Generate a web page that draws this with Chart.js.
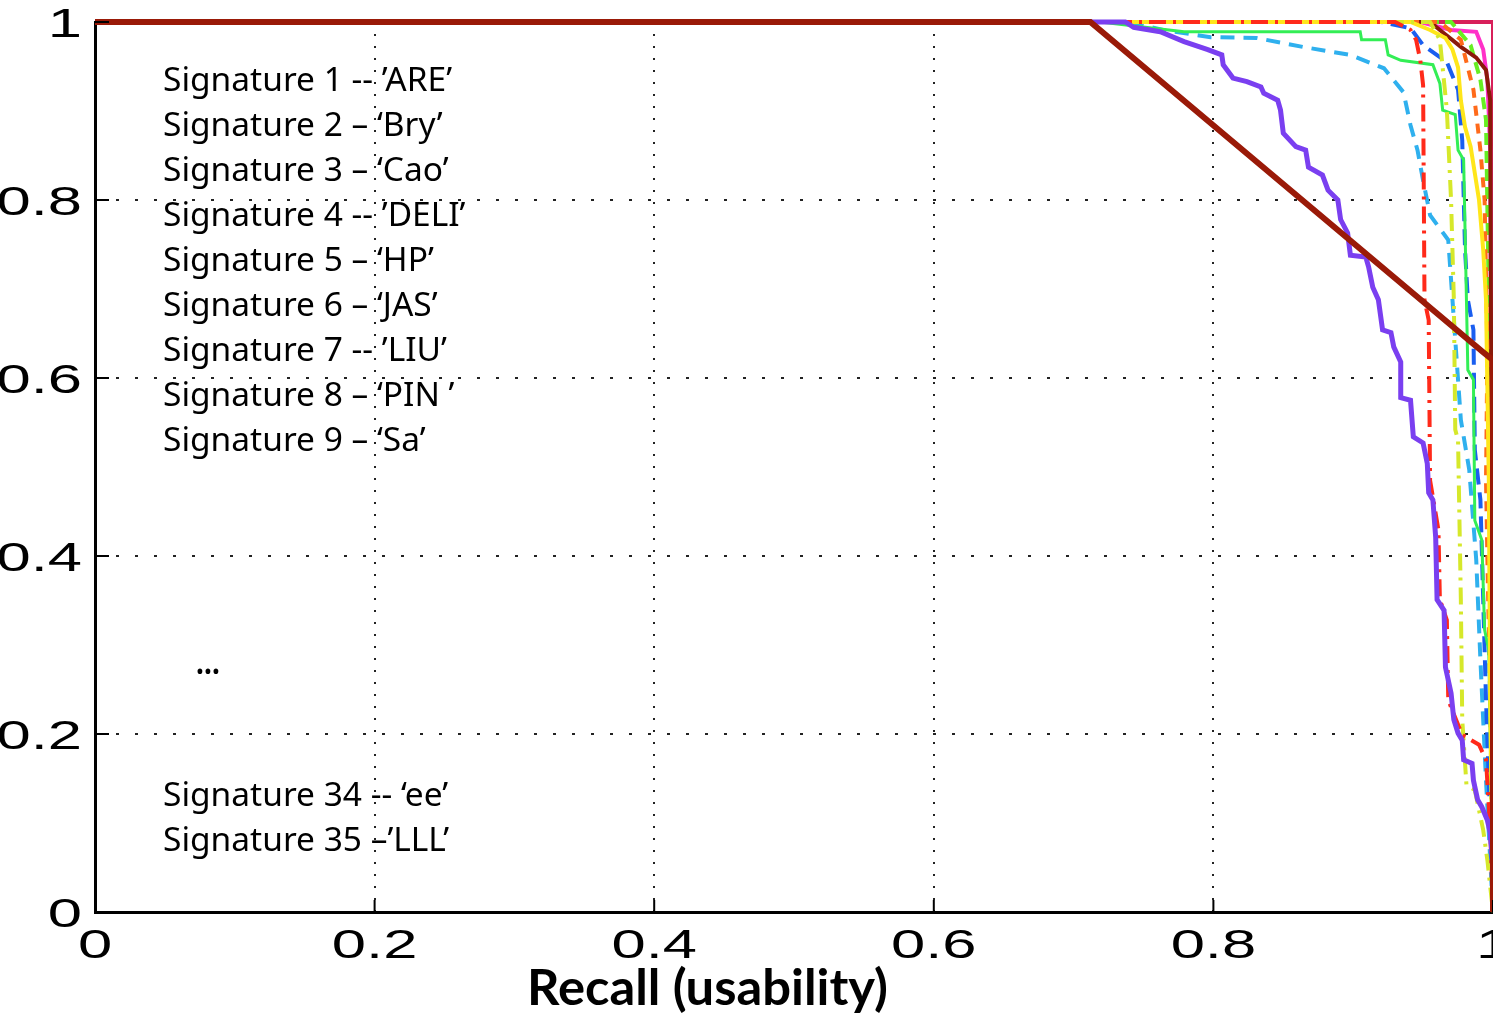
<!DOCTYPE html>
<html>
<head>
<meta charset="utf-8">
<script src="https://cdn.jsdelivr.net/npm/chart.js@4/dist/chart.umd.min.js"></script>
<style>
  html, body { margin: 0; padding: 0; background: #fff; }
  #wrap { width: 1493px; height: 1014px; }
</style>
</head>
<body>
<div id="wrap"><canvas id="prChart" width="1493" height="1014"></canvas></div>
<script>
// axis ticks
const tickValues = [0, 0.2, 0.4, 0.6, 0.8, 1];
const tickLabels = ['0', '0.2', '0.4', '0.6', '0.8', '1'];
const xTitle = 'Recall (usability)';

// annotation text
const signatureLines = [
  'Signature 1 -- ’ARE’',
  'Signature 2 – ‘Bry’',
  'Signature 3 – ‘Cao’',
  'Signature 4 -- ’DELI’',
  'Signature 5 – ‘HP’',
  'Signature 6 – ‘JAS’',
  'Signature 7 -- ’LIU’',
  'Signature 8 – ‘PIN ’',
  'Signature 9 – ‘Sa’'
];
const signatureTail = ['Signature 34 -- ‘ee’', 'Signature 35 –’LLL’'];

// curves as [recall, precision] pairs
const curveBrown = [[0, 1], [0.712, 1], [0.993, 0.629], [1, 0.62], [1, 0]];
const curvePurple = [
  [0, 1], [0.737, 1], [0.743, 0.994], [0.762, 0.989], [0.779, 0.978], [0.796, 0.969],
  [0.806, 0.963], [0.807, 0.952], [0.814, 0.937], [0.824, 0.933], [0.834, 0.927],
  [0.836, 0.920], [0.846, 0.912], [0.848, 0.901], [0.850, 0.875], [0.859, 0.860],
  [0.866, 0.856], [0.868, 0.837], [0.878, 0.828], [0.882, 0.811], [0.889, 0.800],
  [0.891, 0.778], [0.896, 0.763], [0.898, 0.738], [0.909, 0.736], [0.911, 0.725],
  [0.914, 0.702], [0.918, 0.688], [0.921, 0.654], [0.927, 0.651], [0.929, 0.635],
  [0.934, 0.618], [0.934, 0.578], [0.941, 0.575], [0.943, 0.534], [0.950, 0.527],
  [0.953, 0.504], [0.954, 0.471], [0.957, 0.463], [0.959, 0.421], [0.960, 0.351],
  [0.965, 0.339], [0.966, 0.275], [0.970, 0.246], [0.972, 0.216], [0.975, 0.201],
  [0.978, 0.193], [0.979, 0.171], [0.985, 0.167], [0.986, 0.148], [0.989, 0.126],
  [0.992, 0.118], [0.996, 0.103], [0.998, 0.089], [1, 0.051], [1, 0]
];
const curveRed = [
  [0, 1], [0.930, 1], [0.941, 0.991], [0.945, 0.980], [0.948, 0.957], [0.950, 0.929],
  [0.951, 0.688], [0.954, 0.665], [0.955, 0.485], [0.961, 0.429], [0.962, 0.351],
  [0.967, 0.328], [0.968, 0.238], [0.978, 0.199], [0.990, 0.188], [0.995, 0.171],
  [0.998, 0.092], [1, 0]
];
const curveLime = [
  [0, 1], [0.955, 1], [0.962, 0.980], [0.967, 0.901], [0.970, 0.800], [0.972, 0.688],
  [0.973, 0.542], [0.975, 0.530], [0.977, 0.351], [0.978, 0.216], [0.981, 0.143],
  [0.987, 0.137], [0.993, 0.092], [0.996, 0.058], [1, 0]
];
const curveCyan = [
  [0, 1], [0.741, 1], [0.764, 0.991], [0.798, 0.983], [0.831, 0.982], [0.864, 0.972],
  [0.898, 0.963], [0.922, 0.948], [0.936, 0.921], [0.941, 0.884], [0.946, 0.856],
  [0.950, 0.822], [0.955, 0.783], [0.968, 0.755], [0.971, 0.688], [0.977, 0.553],
  [0.983, 0.497], [0.988, 0.396], [0.991, 0.283], [0.995, 0.148], [1, 0]
];
const curveGreen = [
  [0, 1], [0.719, 1], [0.779, 0.989], [0.905, 0.989], [0.906, 0.980], [0.923, 0.980],
  [0.925, 0.963], [0.934, 0.957], [0.957, 0.952], [0.962, 0.931], [0.964, 0.901],
  [0.973, 0.896], [0.975, 0.856], [0.979, 0.845], [0.981, 0.688], [0.982, 0.609],
  [0.986, 0.598], [0.987, 0.440], [0.992, 0.418], [0.994, 0.317], [0.997, 0.294], [1, 0]
];
const curveBlue = [
  [0, 1], [0.920, 1], [0.941, 0.993], [0.950, 0.974], [0.967, 0.955], [0.975, 0.924],
  [0.978, 0.867], [0.980, 0.744], [0.982, 0.688], [0.986, 0.654], [0.987, 0.519],
  [0.991, 0.463], [0.993, 0.351], [0.995, 0.238], [0.997, 0.148], [1, 0]
];
const curveYellow = [
  [0, 1], [0.941, 1], [0.955, 0.991], [0.966, 0.982], [0.971, 0.969], [0.975, 0.949],
  [0.977, 0.912], [0.980, 0.882], [0.984, 0.860], [0.987, 0.830], [0.990, 0.800],
  [0.993, 0.744], [0.995, 0.688], [0.997, 0.485], [0.998, 0.238], [1, 0]
];
const curveOrange = [
  [0, 1], [0.962, 1], [0.977, 0.980], [0.986, 0.924], [0.991, 0.856], [0.994, 0.800],
  [0.996, 0.631], [0.995, 0.485], [0.996, 0.396], [0.998, 0.238], [1, 0]
];
const curveMagenta = [
  [0, 1], [0.948, 1], [0.970, 0.991], [0.988, 0.989], [0.993, 0.969], [0.996, 0.935],
  [0.998, 0.856], [0.999, 0.463], [1, 0]
];
const curveDarkRed = [
  [0, 1], [0.955, 1], [0.962, 0.991], [0.977, 0.972], [0.988, 0.960], [0.995, 0.946],
  [0.998, 0.912], [1, 0]
];
const curveLeaf = [
  [0, 1], [0.970, 1], [0.984, 0.974], [0.991, 0.935], [0.995, 0.890], [0.997, 0.688], [1, 0]
];
const curveCrimson = [[0, 1], [1, 1], [1, 0]];

function toPoints(curve) {
  return curve.map(p => ({ x: p[0], y: p[1] }));
}

function line(curve, color, width, dash) {
  return {
    data: toPoints(curve),
    borderColor: color,
    borderWidth: width,
    borderDash: dash || [],
    pointRadius: 0,
    tension: 0,
    fill: false,
    clip: false,
    borderJoinStyle: 'miter'
  };
}

// text drawn with a horizontal stretch, like the exported figure
function stretchText(ctx, text, x, y, sx, align) {
  ctx.save();
  ctx.translate(x, y);
  ctx.scale(sx, 1);
  ctx.textAlign = align;
  ctx.fillText(text, 0, 0);
  ctx.restore();
}

const figureText = {
  id: 'figureText',
  beforeDraw(chart) {
    const ctx = chart.ctx;
    ctx.save();
    ctx.fillStyle = '#000';
    ctx.textBaseline = 'alphabetic';
    ctx.font = '33px "Noto Sans"';
    const sx = 289 / ctx.measureText(signatureLines[0]).width;
    signatureLines.forEach((t, i) => stretchText(ctx, t, 163, 91 + i * 45, sx, 'left'));
    signatureTail.forEach((t, i) => stretchText(ctx, t, 163, 806 + i * 45, sx, 'left'));
    ctx.font = 'bold 33px "Noto Sans"';
    stretchText(ctx, '…', 196, 674, 0.85, 'left');
    ctx.restore();
  },
  afterDraw(chart) {
    const ctx = chart.ctx;
    const xs = chart.scales.x, ys = chart.scales.y;
    const area = chart.chartArea;
    ctx.save();
    // inward tick marks
    ctx.strokeStyle = '#000';
    ctx.lineWidth = 2;
    ctx.beginPath();
    tickValues.forEach(v => {
      const px = xs.getPixelForValue(v);
      ctx.moveTo(px, area.bottom);
      ctx.lineTo(px, area.bottom - 12);
      const py = ys.getPixelForValue(v);
      ctx.moveTo(area.left, py);
      ctx.lineTo(area.left + 14, py);
    });
    ctx.stroke();
    // tick labels
    ctx.fillStyle = '#000';
    ctx.font = '41px "Liberation Sans"';
    ctx.textBaseline = 'middle';
    tickValues.forEach((v, i) => {
      stretchText(ctx, tickLabels[i], xs.getPixelForValue(v), 947, 1.5, 'center');
      stretchText(ctx, tickLabels[i], 82, ys.getPixelForValue(v) + 4, 1.5, 'right');
    });
    // axis title
    ctx.font = 'bold 50px Lato';
    ctx.textBaseline = 'alphabetic';
    const tsx = 361 / ctx.measureText(xTitle).width;
    stretchText(ctx, xTitle, 527, 1005, tsx, 'left');
    ctx.restore();
  }
};

new Chart(document.getElementById('prChart'), {
  type: 'line',
  data: {
    datasets: [
      line(curveBrown, '#9a1a08', 6),
      line(curvePurple, '#7a3ff0', 5),
      line(curveRed, '#ff2a1a', 4, [17, 7, 3, 7]),
      line(curveLime, '#d6e82a', 4, [17, 7, 3, 7]),
      line(curveYellow, '#ffe61a', 4),
      line(curveGreen, '#33ee55', 3),
      line(curveBlue, '#1a5ef0', 4, [16, 8]),
      line(curveCyan, '#2fb0ee', 4, [14, 9]),
      line(curveOrange, '#ff6a1a', 4, [10, 8]),
      line(curveDarkRed, '#8a1a0a', 4),
      line(curveLeaf, '#66ee22', 4, [12, 6]),
      line(curveMagenta, '#ff30c8', 4),
      line(curveCrimson, '#d8205a', 4)
    ]
  },
  options: {
    responsive: false,
    animation: false,
    devicePixelRatio: 1,
    layout: { padding: { top: 22, right: 0, bottom: 0, left: 0 } },
    plugins: {
      legend: { display: false },
      tooltip: { enabled: false }
    },
    scales: {
      x: {
        type: 'linear',
        min: 0,
        max: 1,
        ticks: { display: false, stepSize: 0.2 },
        grid: { color: '#222', lineWidth: 2, drawTicks: false },
        border: { display: true, color: '#000', width: 3, dash: [2, 10] },
        afterFit: s => { s.height = 102; s.paddingLeft = 0; s.paddingRight = 0; }
      },
      y: {
        type: 'linear',
        min: 0,
        max: 1,
        ticks: { display: false, stepSize: 0.2 },
        grid: { color: '#222', lineWidth: 2, drawTicks: false },
        border: { display: true, color: '#000', width: 3, dash: [3, 16] },
        afterFit: s => { s.width = 95; s.paddingTop = 0; s.paddingBottom = 0; }
      }
    }
  },
  plugins: [figureText]
});
</script>
</body>
</html>
